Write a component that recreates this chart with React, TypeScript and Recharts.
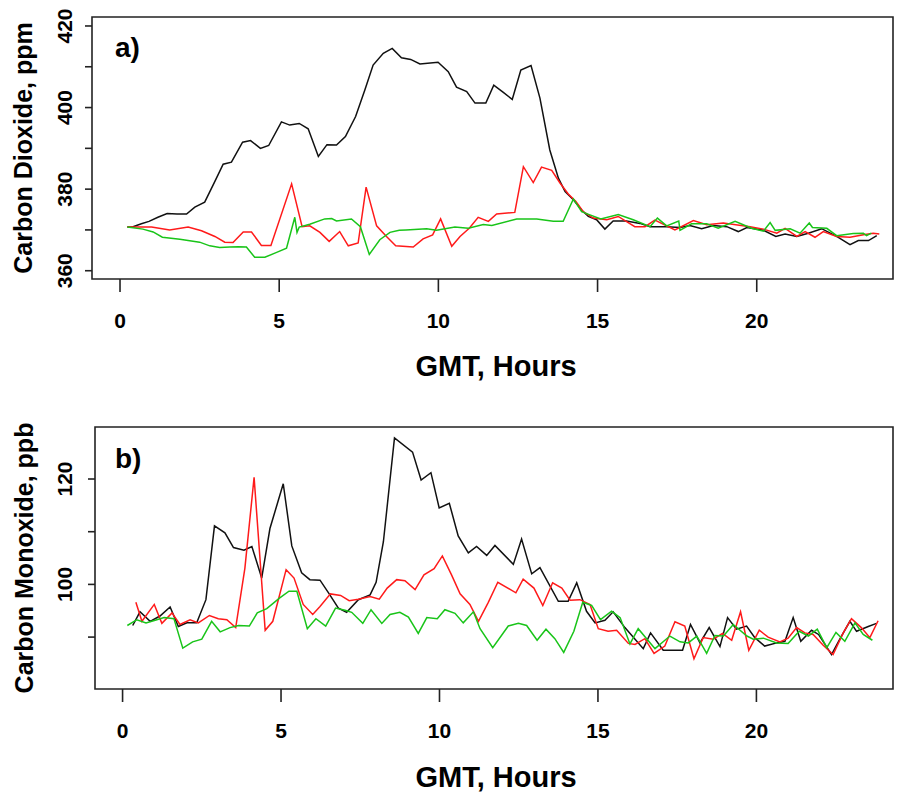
import React from 'react';
import { LineChart, Line, XAxis, YAxis, ReferenceArea } from 'recharts';

const FONT = '"Liberation Sans", Arial, Helvetica, sans-serif';
const AXIS = '#222';

// ---------- Panel a) Carbon Dioxide (ppm) ----------
const co2BlackHours = [0.23,0.41,0.67,0.91,1.19,1.48,1.79,2.09,2.35,2.66,2.98,3.24,3.5,3.85,4.1,4.41,4.67,5.07,5.33,5.63,5.91,6.23,6.5,6.8,7.08,7.4,7.69,7.95,8.27,8.55,8.84,9.13,9.42,9.99,10.31,10.57,10.89,11.15,11.49,11.74,12.04,12.32,12.59,12.91,13.19,13.5,13.77,13.98,14.24,14.5,14.71,14.97,15.23,15.49,15.91,16.33,16.65,17.17,17.59,17.9,18.27,18.64,19.06,19.42,19.69,20.21,20.6,20.89,21.26,21.62,22.04,22.51,22.93,23.19,23.51,23.77];
const co2BlackValues = [370.7,370.8,371.5,372.1,373.1,374.0,373.9,373.9,375.6,376.8,381.9,386.1,386.6,391.5,391.9,390.0,390.7,396.5,395.7,396.1,394.8,388.0,390.9,390.8,392.9,397.8,404.3,410.4,413.3,414.5,412.2,411.8,410.7,411.1,408.8,405.0,403.9,401.1,401.1,405.5,403.7,402.0,409.2,410.3,402.3,389.6,382.7,379.4,377.4,374.9,373.3,372.5,370.2,372.2,372.2,371.6,370.8,370.8,370.6,371.1,370.3,371.1,370.8,369.6,370.6,369.9,368.4,369.0,368.4,369.2,370.3,368.4,366.4,367.4,367.4,368.6];

const co2RedHours = [0.23,0.99,1.56,2.14,2.56,2.98,3.29,3.55,3.87,4.13,4.44,4.74,5.39,5.72,5.96,6.28,6.57,6.9,7.17,7.48,7.73,8.06,8.37,8.66,9.21,9.52,9.82,10.07,10.42,10.68,10.97,11.25,11.57,11.83,12.4,12.67,12.98,13.24,13.56,13.82,14.08,14.32,14.55,14.86,15.29,15.65,16.17,16.49,16.8,17.43,18.01,18.43,18.95,19.79,20.21,20.63,20.89,21.26,21.52,21.83,22.09,22.51,22.93,23.35,23.66,23.85];
const co2RedValues = [370.7,370.7,370.0,370.7,369.8,368.4,367.0,366.9,369.5,369.5,366.2,366.2,381.3,370.8,371.0,369.4,367.2,369.6,366.1,366.8,380.5,371.0,368.4,366.1,365.8,367.8,368.8,372.7,366.0,368.4,370.4,373.1,372.1,373.9,374.3,385.5,381.6,385.4,384.6,381.5,378.8,377.0,374.5,372.9,372.5,373.3,370.8,370.8,372.4,370.0,372.3,371.3,371.7,370.8,370.2,369.2,370.4,368.4,369.6,368.2,369.6,368.4,368.2,368.8,369.2,369.0];

const co2GreenHours = [0.23,0.72,1.04,1.33,1.88,2.5,2.82,3.13,3.45,3.71,3.97,4.23,4.55,4.92,5.23,5.49,5.56,5.63,5.96,6.43,6.65,6.8,7.27,7.55,7.83,8.16,8.48,8.77,8.98,9.63,9.94,10.52,10.94,11.41,11.68,12.46,13.09,13.61,13.92,14.24,14.5,14.76,15.1,15.65,16.12,16.65,16.88,17.17,17.55,17.59,17.95,18.43,18.79,19.32,19.84,20.21,20.42,20.58,21.05,21.36,21.65,21.75,22.2,22.51,23.03,23.35,23.45,23.6];
const co2GreenValues = [370.7,370.2,369.5,368.2,367.7,367.0,366.1,365.7,365.8,365.9,365.8,363.3,363.3,364.5,365.5,373.1,369.4,370.7,371.4,372.7,372.8,372.2,372.7,370.8,364.0,367.6,369.4,369.9,370.0,370.3,369.9,370.7,370.4,371.3,371.1,372.7,372.7,372.1,372.1,377.6,374.5,373.7,372.7,373.8,372.5,370.8,372.9,371.0,372.2,369.9,371.5,371.5,370.4,372.1,370.4,369.7,371.8,369.9,370.3,369.2,371.7,370.6,370.4,368.6,369.1,369.2,368.6,369.2];

// ---------- Panel b) Carbon Monoxide (ppb) ----------
const coBlackHours = [0.32,0.55,0.87,1.18,1.5,1.76,2.03,2.34,2.63,2.9,3.23,3.5,3.83,4.08,4.39,4.65,5.07,5.34,5.65,5.91,6.23,6.52,6.81,7.07,7.44,7.81,8.0,8.23,8.58,9.15,9.42,9.73,9.99,10.31,10.59,10.91,11.17,11.49,11.75,12.33,12.59,12.91,13.17,13.75,14.06,14.33,14.64,14.91,15.22,15.48,15.85,16.43,16.66,17.06,17.67,17.92,18.22,18.51,18.85,19.09,19.37,19.69,19.95,20.26,20.64,20.9,21.16,21.4,21.74,21.96,22.37,22.64,22.95,23.16,23.53,23.79];
const coBlackValues = [92.2,94.8,93.0,94.0,95.7,92.0,92.7,92.7,97.1,111.1,109.8,107.0,106.5,107.2,101.2,110.6,119.1,107.3,102.2,100.9,100.8,98.2,95.5,94.7,97.1,98.0,100.4,108.1,127.8,125.1,119.8,121.2,114.5,115.4,109.2,106.0,107.2,105.5,107.4,103.8,108.6,102.0,103.2,96.8,96.8,100.3,94.9,92.7,93.2,94.8,91.8,87.8,90.8,87.5,87.5,92.4,88.9,91.8,88.2,93.7,91.5,92.1,89.9,88.3,88.9,89.2,93.7,89.2,91.3,90.5,86.7,89.7,93.0,91.1,92.0,92.6];

const coRedHours = [0.42,0.61,1.0,1.24,1.56,1.81,2.13,2.39,2.74,3.02,3.29,3.57,3.86,4.15,4.5,4.74,5.16,5.41,5.7,6.0,6.23,6.56,6.88,7.15,7.44,7.81,8.1,8.35,8.65,8.91,9.23,9.51,9.83,10.09,10.38,10.65,10.96,11.23,11.54,11.84,12.41,12.64,12.98,13.26,13.57,13.86,14.12,14.43,14.75,15.01,15.32,15.59,15.96,16.17,16.48,16.77,17.11,17.43,17.74,18.03,18.32,18.64,18.93,19.22,19.5,19.76,20.09,20.37,20.74,21.0,21.27,21.53,21.79,22.1,22.42,22.74,23.0,23.31,23.58,23.84];
const coRedValues = [96.6,93.0,96.2,92.6,94.6,92.4,93.3,92.7,94.1,93.5,93.3,91.8,103.1,120.3,91.3,93.0,102.8,101.2,96.2,94.3,95.8,98.2,97.9,96.9,97.2,97.7,97.2,99.3,100.9,100.7,99.0,101.8,103.0,105.4,101.8,98.2,96.2,93.0,96.6,100.4,98.4,101.0,99.3,96.0,100.3,99.3,97.0,97.1,96.2,91.6,91.1,91.3,88.8,88.6,89.7,86.9,88.3,92.9,92.1,85.9,89.9,89.6,90.7,89.4,94.8,87.5,91.3,90.0,89.1,89.8,91.8,90.8,90.5,88.5,86.7,90.8,93.5,91.8,89.9,93.1];

const coGreenHours = [0.15,0.45,0.74,1.03,1.31,1.62,1.9,2.21,2.5,2.81,3.08,3.39,3.66,4.0,4.25,4.55,4.95,5.25,5.5,5.83,6.1,6.41,6.72,7.02,7.23,7.58,7.84,8.18,8.44,8.75,9.02,9.33,9.6,9.93,10.17,10.49,10.75,11.07,11.28,11.68,12.17,12.49,12.75,13.08,13.36,13.64,13.92,14.24,14.52,14.8,15.08,15.43,15.7,16.01,16.27,16.8,17.27,17.59,17.85,18.12,18.43,18.69,18.96,19.27,19.7,19.9,20.22,20.64,21.0,21.35,21.64,21.92,22.22,22.51,22.79,23.11,23.37,23.66];
const coGreenValues = [92.2,93.3,92.7,93.2,93.7,93.5,87.9,89.1,89.6,93.0,91.0,91.8,92.2,92.1,94.6,95.4,97.4,98.7,98.7,91.6,93.5,92.1,95.5,95.1,94.7,92.6,95.2,92.6,94.3,94.7,93.8,90.7,93.7,93.5,95.2,94.5,92.7,94.8,91.6,88.0,92.1,92.6,92.2,89.4,91.5,89.7,87.1,91.1,96.6,96.0,93.3,94.9,93.7,88.7,91.6,87.8,90.2,89.1,88.9,90.2,86.9,90.3,90.2,92.4,90.2,89.6,89.8,88.9,88.8,91.1,90.2,91.5,88.0,90.9,89.2,92.7,90.5,89.4];

// ---------- axes ----------
const xTicks = [0, 5, 10, 15, 20];
const co2Ticks = [360, 370, 380, 390, 400, 410, 420];
const co2Labels = [360, 380, 400, 420];
const coTicks = [90, 100, 110, 120];
const coLabels = [100, 120];

const zip = (hs: number[], vs: number[]) => hs.map((h, i) => ({ h, v: vs[i] }));

const SERIES_COLORS = { black: '#111111', red: '#ff1a1a', green: '#19c419' };

const textStyle = { fontFamily: FONT, fontWeight: 'bold' as const, fill: '#000' };

const makeYTick = (labels: number[], lx: number) => (props: any) => {
  const { y, payload } = props;
  if (!labels.includes(payload.value)) return <g />;
  return (
    <text x={lx} y={y} transform={`rotate(-90 ${lx} ${y})`} textAnchor="middle" fontSize={21} {...textStyle}>
      {payload.value}
    </text>
  );
};

interface PanelProps {
  height: number;
  marginTop: number;
  yWidth: number;
  xHeight: number;
  xDomain: [number, number];
  yDomain: [number, number];
  yTicks: number[];
  yLabels: number[];
  yTitle: string;
  yTitleX: number;
  yTitleY: number;
  letter: string;
  letterY: number;
  xTitleY: number;
  black: { h: number; v: number }[];
  red: { h: number; v: number }[];
  green: { h: number; v: number }[];
}

const Panel = (p: PanelProps) => (
  <LineChart width={902} height={p.height} margin={{ top: p.marginTop, right: 9, bottom: 0, left: 0 }}>
    <XAxis
      xAxisId="b"
      dataKey="h"
      type="number"
      domain={p.xDomain}
      ticks={xTicks}
      interval={0}
      allowDataOverflow
      height={p.xHeight}
      tickSize={13}
      tickMargin={21}
      axisLine={false}
      tickLine={{ stroke: AXIS, strokeWidth: 1.6 }}
      tick={{ fontSize: 21, ...textStyle }}
      label={() => (
        <text x={496} y={p.xTitleY} textAnchor="middle" fontSize={29} {...textStyle}>
          GMT, Hours
        </text>
      )}
    />
    <YAxis
      yAxisId="l"
      type="number"
      domain={p.yDomain}
      ticks={p.yTicks}
      interval={0}
      allowDataOverflow
      width={p.yWidth}
      tickSize={7}
      axisLine={false}
      tickLine={{ stroke: AXIS, strokeWidth: 1.6 }}
      tick={makeYTick(p.yLabels, 72)}
      label={() => (
        <g>
          <text
            x={p.yTitleX}
            y={p.yTitleY}
            transform={`rotate(-90 ${p.yTitleX} ${p.yTitleY})`}
            textAnchor="middle"
            fontSize={25}
            {...textStyle}
          >
            {p.yTitle}
          </text>
          <text x={115} y={p.letterY} fontSize={28} {...textStyle}>
            {p.letter}
          </text>
        </g>
      )}
    />
    <ReferenceArea
      xAxisId="b"
      yAxisId="l"
      x1={p.xDomain[0]}
      x2={p.xDomain[1]}
      y1={p.yDomain[0]}
      y2={p.yDomain[1]}
      fill="none"
      fillOpacity={0}
      stroke={AXIS}
      strokeWidth={1.6}
      strokeOpacity={1}
      ifOverflow="visible"
    />
    <Line xAxisId="b" yAxisId="l" data={p.black} dataKey="v" type="linear" stroke={SERIES_COLORS.black} strokeWidth={1.5} dot={false} isAnimationActive={false} />
    <Line xAxisId="b" yAxisId="l" data={p.red} dataKey="v" type="linear" stroke={SERIES_COLORS.red} strokeWidth={1.5} dot={false} isAnimationActive={false} />
    <Line xAxisId="b" yAxisId="l" data={p.green} dataKey="v" type="linear" stroke={SERIES_COLORS.green} strokeWidth={1.5} dot={false} isAnimationActive={false} />
  </LineChart>
);

export default function App() {
  return (
    <div style={{ position: 'absolute', left: 0, top: 0, width: 902, height: 793, background: '#fff' }}>
      <div style={{ position: 'absolute', left: 0, top: 0 }}>
        <Panel
          height={400}
          marginTop={17}
          yWidth={92}
          xHeight={121}
          xDomain={[-0.88, 24.28]}
          yDomain={[357.97, 422.2]}
          yTicks={co2Ticks}
          yLabels={co2Labels}
          yTitle="Carbon Dioxide, ppm"
          yTitleX={32}
          yTitleY={148}
          letter="a)"
          letterY={57}
          xTitleY={376}
          black={zip(co2BlackHours, co2BlackValues)}
          red={zip(co2RedHours, co2RedValues)}
          green={zip(co2GreenHours, co2GreenValues)}
        />
      </div>
      <div style={{ position: 'absolute', left: 0, top: 400 }}>
        <Panel
          height={393}
          marginTop={27}
          yWidth={95}
          xHeight={104}
          xDomain={[-0.87, 24.31]}
          yDomain={[80.15, 129.87]}
          yTicks={coTicks}
          yLabels={coLabels}
          yTitle="Carbon Monoxide, ppb"
          yTitleX={33}
          yTitleY={158}
          letter="b)"
          letterY={68}
          xTitleY={387}
          black={zip(coBlackHours, coBlackValues)}
          red={zip(coRedHours, coRedValues)}
          green={zip(coGreenHours, coGreenValues)}
        />
      </div>
    </div>
  );
}
